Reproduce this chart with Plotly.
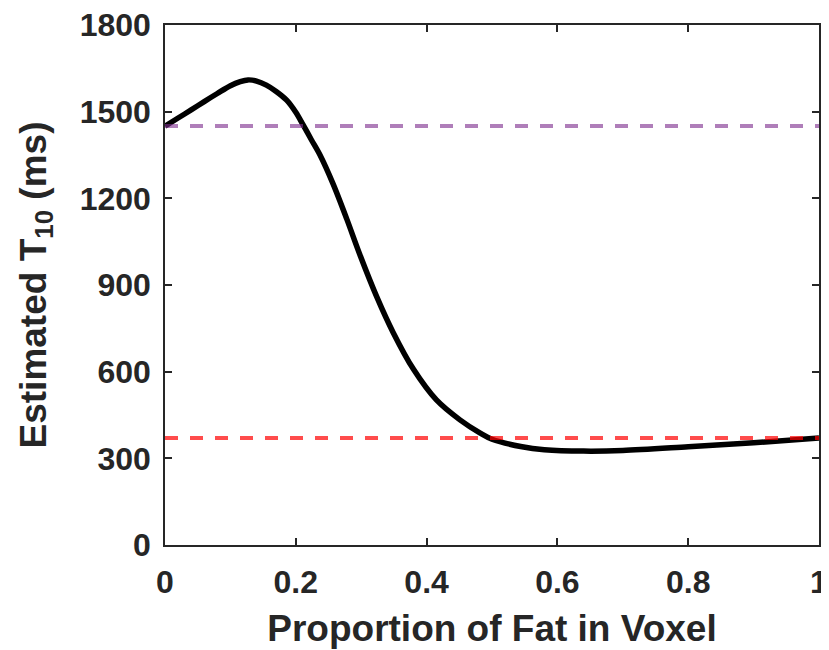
import plotly.graph_objects as go

# Data
fat_fraction = [0.0, 0.02, 0.04, 0.06, 0.08, 0.10, 0.115, 0.127, 0.14, 0.155, 0.17,
                0.186, 0.20, 0.211, 0.224, 0.237, 0.257, 0.278, 0.298, 0.324, 0.349,
                0.38, 0.415, 0.451, 0.482, 0.50, 0.546, 0.58, 0.64, 0.70, 0.80, 0.90, 1.0]
t10_estimated = [1450, 1478, 1506, 1535, 1563, 1590, 1604, 1610, 1606, 1592, 1570,
                 1540, 1498, 1455, 1402, 1350, 1250, 1128, 1005, 858, 735,
                 608, 502, 433, 387, 366, 340, 330, 325, 327, 340, 354, 370]
ref_high = 1450   # purple dashed reference
ref_low = 370     # red dashed reference

x_ticks = [0, 0.2, 0.4, 0.6, 0.8, 1]
x_tick_labels = ["0", "0.2", "0.4", "0.6", "0.8", "1"]
y_ticks = [0, 300, 600, 900, 1200, 1500, 1800]
y_tick_labels = ["0", "300", "600", "900", "1200", "1500", "1800"]

fig = go.Figure()
fig.add_trace(go.Scatter(x=fat_fraction, y=t10_estimated, mode="lines",
                         line=dict(color="black", width=5.5, shape="spline", smoothing=0.9),
                         showlegend=False, hoverinfo="skip"))
fig.add_trace(go.Scatter(x=[0, 1], y=[ref_high, ref_high], mode="lines",
                         line=dict(color="rgba(126,47,142,0.62)", width=4, dash="13px,12px"),
                         showlegend=False, hoverinfo="skip"))
fig.add_trace(go.Scatter(x=[0, 1], y=[ref_low, ref_low], mode="lines",
                         line=dict(color="rgba(255,0,0,0.7)", width=4, dash="13px,12px"),
                         showlegend=False, hoverinfo="skip"))

axis_font = dict(family="Liberation Sans", size=32, color="#262626")
title_font = dict(family="Liberation Sans", size=37, color="#262626")

# the page body has an 8px default margin, so the figure is sized to fill the rest of the window
fig.update_layout(
    template="none",
    width=821, height=642,
    margin=dict(l=157, r=10, t=17, b=105, autoexpand=False),
    paper_bgcolor="white", plot_bgcolor="white",
    font=dict(family="Liberation Sans", color="#262626"),
    xaxis=dict(range=[0, 1], tickvals=x_ticks, ticktext=[f"<b>{t}</b>" for t in x_tick_labels],
               ticks="inside", ticklen=7, tickwidth=1.5, tickcolor="#262626",
               showline=True, linecolor="#262626", linewidth=1.5, mirror="ticks",
               showgrid=False, zeroline=False, tickfont=axis_font, automargin=False,
               ticklabelstandoff=8, ticklabeloverflow="allow",
               title=dict(text="<b>Proportion of Fat in Voxel</b>", font=title_font, standoff=16)),
    yaxis=dict(range=[0, 1800], tickvals=y_ticks, ticktext=[f"<b>{t}</b>" for t in y_tick_labels],
               ticks="inside", ticklen=7, tickwidth=1.5, tickcolor="#262626",
               showline=True, linecolor="#262626", linewidth=1.5, mirror="ticks",
               showgrid=False, zeroline=False, tickfont=axis_font, automargin=False,
               ticklabelstandoff=6, ticklabeloverflow="allow",
               title=dict(text="<b>Estimated T<sub>10</sub> (ms)</b>", font=title_font, standoff=22)),
)

fig.write_html("out.html")
